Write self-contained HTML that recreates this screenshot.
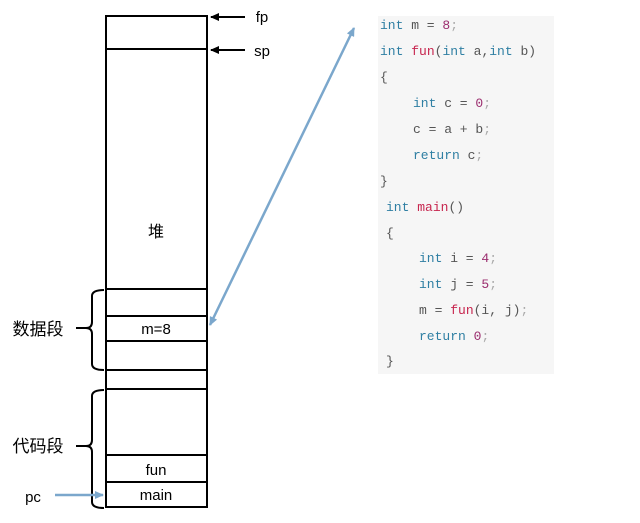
<!DOCTYPE html>
<html><head><meta charset="utf-8"><style>
body{margin:0;background:#fff;width:640px;height:523px;overflow:hidden;position:relative;font-family:"Liberation Sans","Noto Sans CJK SC",sans-serif}
.code{position:absolute;left:378px;top:16px;width:176px;height:358px;background:#f6f6f6}
.code div{position:absolute;font-family:"Liberation Mono",monospace;font-size:13px;color:#555;white-space:pre;line-height:16px}
.k{color:#2f7fa3}.f{color:#c7254e}.n{color:#9b2d6e}.p{color:#aaa}
</style></head><body>
<svg width="640" height="523" style="position:absolute;left:0;top:0">
<defs>
<marker id="b" markerUnits="userSpaceOnUse" markerWidth="9" markerHeight="8" refX="8" refY="4" orient="auto"><path d="M0,0 L9,4 L0,8 z" fill="#7ba7cc"/></marker>
<marker id="bs" markerUnits="userSpaceOnUse" markerWidth="9" markerHeight="8" refX="1" refY="4" orient="auto"><path d="M9,0 L0,4 L9,8 z" fill="#7ba7cc"/></marker>
<marker id="k" markerUnits="userSpaceOnUse" markerWidth="9" markerHeight="8" refX="8" refY="4" orient="auto"><path d="M0,0 L9,4 L0,8 z" fill="#000"/></marker>
</defs>
<g stroke="#000" stroke-width="2" fill="none">
<rect x="106" y="16" width="101" height="491"/>
<line x1="106" y1="49" x2="207" y2="49"/>
<line x1="106" y1="289" x2="207" y2="289"/>
<line x1="106" y1="316" x2="207" y2="316"/>
<line x1="106" y1="341" x2="207" y2="341"/>
<line x1="106" y1="370" x2="207" y2="370"/>
<line x1="106" y1="389" x2="207" y2="389"/>
<line x1="106" y1="455" x2="207" y2="455"/>
<line x1="106" y1="482" x2="207" y2="482"/>
<path d="M104,290 Q92,290 92,296 L92,322 Q92,328 86,328 Q92,328 92,334 L92,364 Q92,370 104,370"/>
<path d="M104,390 Q92,390 92,396 L92,440 Q92,446 86,446 Q92,446 92,452 L92,502 Q92,508 104,508"/>
<line x1="76" y1="328" x2="86" y2="328"/>
<line x1="76" y1="446" x2="86" y2="446"/>
</g>
<line x1="245" y1="17" x2="211" y2="17" stroke="#000" stroke-width="2" marker-end="url(#k)"/>
<line x1="245" y1="50" x2="211" y2="50" stroke="#000" stroke-width="2" marker-end="url(#k)"/>
<line x1="210" y1="325" x2="354" y2="28" stroke="#7ba7cc" stroke-width="2.5" marker-end="url(#b)" marker-start="url(#bs)"/>
<line x1="55" y1="495" x2="103" y2="495" stroke="#7ba7cc" stroke-width="2.5" marker-end="url(#b)"/>
<g font-size="15" text-anchor="middle" font-family="Liberation Sans,Noto Sans CJK SC,sans-serif">
<text x="156" y="237" font-size="16">堆</text>
<text x="156" y="334">m=8</text>
<text x="156" y="475">fun</text>
<text x="156" y="500">main</text>
<text x="38" y="335" font-size="17">数据段</text>
<text x="38" y="452" font-size="17">代码段</text>
<text x="33" y="502">pc</text>
<text x="262" y="22">fp</text>
<text x="262" y="56">sp</text>
</g>
</svg>
<div class="code">
<div style="left:2px;top:2px"><span class="k">int</span> m = <span class="n">8</span><span class="p">;</span></div>
<div style="left:2px;top:28px"><span class="k">int</span> <span class="f">fun</span>(<span class="k">int</span> a,<span class="k">int</span> b)</div>
<div style="left:2px;top:54px" class="p">{</div>
<div style="left:35px;top:80px"><span class="k">int</span> c = <span class="n">0</span><span class="p">;</span></div>
<div style="left:35px;top:106px">c = a + b<span class="p">;</span></div>
<div style="left:35px;top:132px"><span class="k">return</span> c<span class="p">;</span></div>
<div style="left:2px;top:158px" class="p">}</div>
<div style="left:8px;top:184px"><span class="k">int</span> <span class="f">main</span>()</div>
<div style="left:8px;top:210px" class="p">{</div>
<div style="left:41px;top:235px"><span class="k">int</span> i = <span class="n">4</span><span class="p">;</span></div>
<div style="left:41px;top:261px"><span class="k">int</span> j = <span class="n">5</span><span class="p">;</span></div>
<div style="left:41px;top:287px">m = <span class="f">fun</span>(i, j)<span class="p">;</span></div>
<div style="left:41px;top:313px"><span class="k">return</span> <span class="n">0</span><span class="p">;</span></div>
<div style="left:8px;top:338px" class="p">}</div>
</div>
</body></html>
